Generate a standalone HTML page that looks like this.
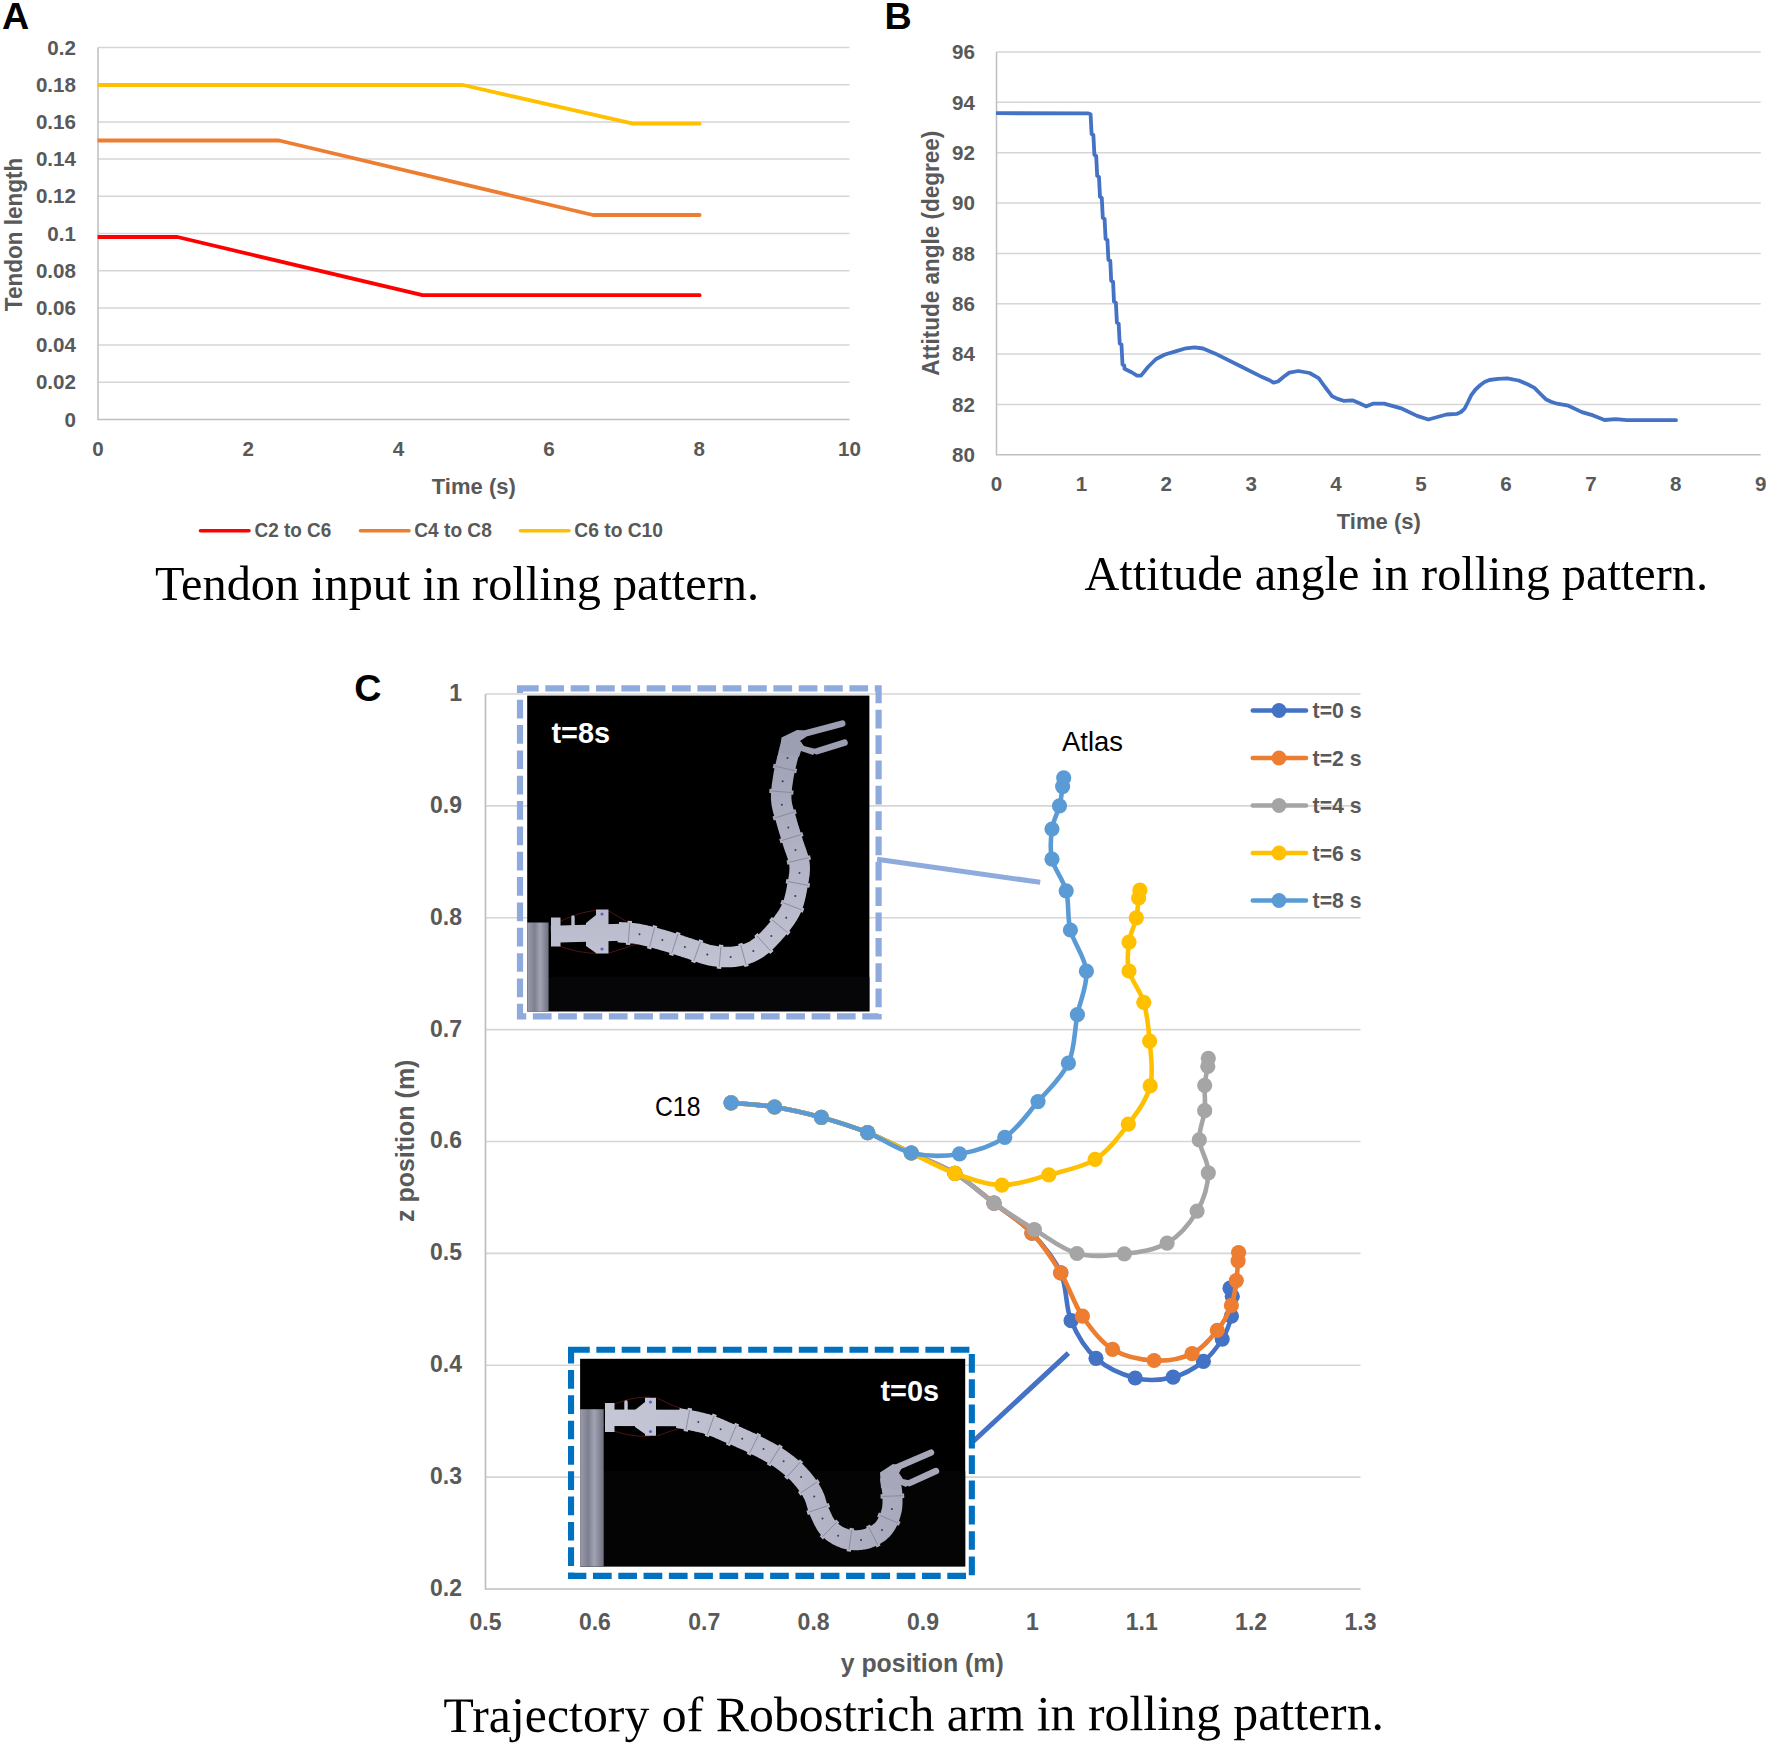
<!DOCTYPE html>
<html lang="en">
<head>
<meta charset="utf-8">
<title>Robostrich arm rolling pattern</title>
<style>
html,body{margin:0;padding:0;background:#fff;}
body{width:1772px;height:1745px;overflow:hidden;}
svg{display:block;}
text.s{font-family:"Liberation Sans", Arial, sans-serif;}
text.r{font-family:"Liberation Serif", "Times New Roman", serif;}
</style>
</head>
<body>
<svg width="1772" height="1745" viewBox="0 0 1772 1745">
<rect width="1772" height="1745" fill="#fff"/>
<defs><clipPath id="ca"><rect x="97.6" y="40" width="760" height="385"/></clipPath><clipPath id="cb"><rect x="996.1" y="45" width="770" height="415"/></clipPath></defs>
<text class="s" x="2" y="29" font-size="37.7" font-weight="bold" fill="#000">A</text>
<text class="s" x="884.6" y="29" font-size="37.7" font-weight="bold" fill="#000">B</text>
<text class="s" x="354.3" y="701.4" font-size="37.7" font-weight="bold" fill="#000">C</text>
<g stroke="#d6d6d6" stroke-width="1.5" fill="none">
<path d="M98.0,382.30H849.5"/>
<path d="M98.0,345.10H849.5"/>
<path d="M98.0,307.90H849.5"/>
<path d="M98.0,270.70H849.5"/>
<path d="M98.0,233.50H849.5"/>
<path d="M98.0,196.30H849.5"/>
<path d="M98.0,159.10H849.5"/>
<path d="M98.0,121.90H849.5"/>
<path d="M98.0,84.70H849.5"/>
<path d="M98.0,47.50H849.5"/>
</g>
<path d="M98.0,47.5V419.5H849.5" stroke="#bfbfbf" stroke-width="1.5" fill="none"/>
<text class="s" x="76" y="426.6" font-size="20.6" text-anchor="end" font-weight="bold" fill="#595959">0</text>
<text class="s" x="76" y="389.4" font-size="20.6" text-anchor="end" font-weight="bold" fill="#595959">0.02</text>
<text class="s" x="76" y="352.2" font-size="20.6" text-anchor="end" font-weight="bold" fill="#595959">0.04</text>
<text class="s" x="76" y="315.0" font-size="20.6" text-anchor="end" font-weight="bold" fill="#595959">0.06</text>
<text class="s" x="76" y="277.8" font-size="20.6" text-anchor="end" font-weight="bold" fill="#595959">0.08</text>
<text class="s" x="76" y="240.6" font-size="20.6" text-anchor="end" font-weight="bold" fill="#595959">0.1</text>
<text class="s" x="76" y="203.4" font-size="20.6" text-anchor="end" font-weight="bold" fill="#595959">0.12</text>
<text class="s" x="76" y="166.2" font-size="20.6" text-anchor="end" font-weight="bold" fill="#595959">0.14</text>
<text class="s" x="76" y="129.0" font-size="20.6" text-anchor="end" font-weight="bold" fill="#595959">0.16</text>
<text class="s" x="76" y="91.8" font-size="20.6" text-anchor="end" font-weight="bold" fill="#595959">0.18</text>
<text class="s" x="76" y="54.6" font-size="20.6" text-anchor="end" font-weight="bold" fill="#595959">0.2</text>
<text class="s" x="98.0" y="455.9" font-size="20.6" text-anchor="middle" font-weight="bold" fill="#595959">0</text>
<text class="s" x="248.3" y="455.9" font-size="20.6" text-anchor="middle" font-weight="bold" fill="#595959">2</text>
<text class="s" x="398.6" y="455.9" font-size="20.6" text-anchor="middle" font-weight="bold" fill="#595959">4</text>
<text class="s" x="548.9" y="455.9" font-size="20.6" text-anchor="middle" font-weight="bold" fill="#595959">6</text>
<text class="s" x="699.2" y="455.9" font-size="20.6" text-anchor="middle" font-weight="bold" fill="#595959">8</text>
<text class="s" x="849.5" y="455.9" font-size="20.6" text-anchor="middle" font-weight="bold" fill="#595959">10</text>
<text class="s" x="473.8" y="493.9" font-size="22.3" text-anchor="middle" font-weight="bold" fill="#595959" textLength="84" lengthAdjust="spacingAndGlyphs">Time (s)</text>
<text class="s" x="22.3" y="234.4" font-size="23" text-anchor="middle" font-weight="bold" fill="#595959" textLength="153.5" lengthAdjust="spacingAndGlyphs" transform="rotate(-90 22.3 234.4)">Tendon length</text>
<path d="M98.0,237.0 L177.5,237.0 L422.5,295.2 L699.6,295.2" stroke="#ff0000" stroke-width="3.8" fill="none" stroke-linecap="round" stroke-linejoin="round" clip-path="url(#ca)"/>
<path d="M98.0,140.5 L279.0,140.5 L593.0,215.0 L699.6,215.0" stroke="#ed7d31" stroke-width="3.8" fill="none" stroke-linecap="round" stroke-linejoin="round" clip-path="url(#ca)"/>
<path d="M98.0,85.0 L463.0,85.0 L633.0,123.7 L699.6,123.7" stroke="#ffc000" stroke-width="3.8" fill="none" stroke-linecap="round" stroke-linejoin="round" clip-path="url(#ca)"/>
<path d="M200.5,530.7H249" stroke="#ff0000" stroke-width="3.6" stroke-linecap="round"/>
<text class="s" x="254.5" y="536.8" font-size="20" font-weight="bold" fill="#595959" textLength="76.8" lengthAdjust="spacingAndGlyphs">C2 to C6</text>
<path d="M360.5,530.7H409" stroke="#ed7d31" stroke-width="3.6" stroke-linecap="round"/>
<text class="s" x="414.3" y="536.8" font-size="20" font-weight="bold" fill="#595959" textLength="77.5" lengthAdjust="spacingAndGlyphs">C4 to C8</text>
<path d="M520.5,530.7H569" stroke="#ffc000" stroke-width="3.6" stroke-linecap="round"/>
<text class="s" x="574.3" y="536.8" font-size="20" font-weight="bold" fill="#595959" textLength="88.7" lengthAdjust="spacingAndGlyphs">C6 to C10</text>
<text class="r" x="155" y="599.5" font-size="48" fill="#000" textLength="604" lengthAdjust="spacingAndGlyphs">Tendon input in rolling pattern.</text>
<g stroke="#d6d6d6" stroke-width="1.5" fill="none">
<path d="M996.5,404.45H1760.7"/>
<path d="M996.5,354.10H1760.7"/>
<path d="M996.5,303.75H1760.7"/>
<path d="M996.5,253.40H1760.7"/>
<path d="M996.5,203.05H1760.7"/>
<path d="M996.5,152.70H1760.7"/>
<path d="M996.5,102.35H1760.7"/>
<path d="M996.5,52.00H1760.7"/>
</g>
<path d="M996.5,52.0V454.8H1760.7" stroke="#bfbfbf" stroke-width="1.5" fill="none"/>
<text class="s" x="975" y="461.9" font-size="20.6" text-anchor="end" font-weight="bold" fill="#595959">80</text>
<text class="s" x="975" y="411.6" font-size="20.6" text-anchor="end" font-weight="bold" fill="#595959">82</text>
<text class="s" x="975" y="361.2" font-size="20.6" text-anchor="end" font-weight="bold" fill="#595959">84</text>
<text class="s" x="975" y="310.9" font-size="20.6" text-anchor="end" font-weight="bold" fill="#595959">86</text>
<text class="s" x="975" y="260.5" font-size="20.6" text-anchor="end" font-weight="bold" fill="#595959">88</text>
<text class="s" x="975" y="210.2" font-size="20.6" text-anchor="end" font-weight="bold" fill="#595959">90</text>
<text class="s" x="975" y="159.8" font-size="20.6" text-anchor="end" font-weight="bold" fill="#595959">92</text>
<text class="s" x="975" y="109.5" font-size="20.6" text-anchor="end" font-weight="bold" fill="#595959">94</text>
<text class="s" x="975" y="59.1" font-size="20.6" text-anchor="end" font-weight="bold" fill="#595959">96</text>
<text class="s" x="996.5" y="490.9" font-size="20.6" text-anchor="middle" font-weight="bold" fill="#595959">0</text>
<text class="s" x="1081.4" y="490.9" font-size="20.6" text-anchor="middle" font-weight="bold" fill="#595959">1</text>
<text class="s" x="1166.3" y="490.9" font-size="20.6" text-anchor="middle" font-weight="bold" fill="#595959">2</text>
<text class="s" x="1251.2" y="490.9" font-size="20.6" text-anchor="middle" font-weight="bold" fill="#595959">3</text>
<text class="s" x="1336.1" y="490.9" font-size="20.6" text-anchor="middle" font-weight="bold" fill="#595959">4</text>
<text class="s" x="1421.1" y="490.9" font-size="20.6" text-anchor="middle" font-weight="bold" fill="#595959">5</text>
<text class="s" x="1506.0" y="490.9" font-size="20.6" text-anchor="middle" font-weight="bold" fill="#595959">6</text>
<text class="s" x="1590.9" y="490.9" font-size="20.6" text-anchor="middle" font-weight="bold" fill="#595959">7</text>
<text class="s" x="1675.8" y="490.9" font-size="20.6" text-anchor="middle" font-weight="bold" fill="#595959">8</text>
<text class="s" x="1760.7" y="490.9" font-size="20.6" text-anchor="middle" font-weight="bold" fill="#595959">9</text>
<text class="s" x="1378.8" y="528.9" font-size="22.3" text-anchor="middle" font-weight="bold" fill="#595959" textLength="84" lengthAdjust="spacingAndGlyphs">Time (s)</text>
<text class="s" x="939" y="253.3" font-size="23" text-anchor="middle" font-weight="bold" fill="#595959" textLength="245" lengthAdjust="spacingAndGlyphs" transform="rotate(-90 939 253.3)">Attitude angle (degree)</text>
<path d="M996.5,113.2 L1088.5,113.4 L1090.5,114.2 L1090.6,114.5 L1091.6,134.0 L1093.4,135.0 L1093.4,135.5 L1094.4,154.9 L1096.2,155.9 L1096.2,156.4 L1097.2,175.9 L1099.0,176.9 L1099.0,177.4 L1100.0,196.8 L1101.8,197.8 L1101.8,198.3 L1102.8,217.8 L1104.6,218.8 L1104.6,219.3 L1105.6,238.8 L1107.4,239.8 L1107.4,240.2 L1108.4,259.7 L1110.3,260.7 L1110.3,261.2 L1111.2,280.7 L1113.1,281.7 L1113.1,282.2 L1114.0,301.6 L1115.9,302.6 L1115.9,303.1 L1116.9,322.6 L1118.7,323.6 L1118.7,324.1 L1119.7,343.5 L1121.5,344.5 L1121.5,345.0 L1122.5,364.5 L1124.3,365.5 L1124.5,368.7 L1132.0,372.5 L1137.0,375.6 L1141.0,375.6 L1148.0,367.0 L1156.1,359.0 L1165.0,354.5 L1176.4,351.1 L1186.0,348.3 L1194.5,347.3 L1203.0,348.5 L1214.8,353.4 L1239.6,365.8 L1262.2,377.1 L1270.0,380.5 L1273.5,382.7 L1278.0,381.5 L1284.0,376.5 L1289.3,372.6 L1298.3,371.0 L1309.6,373.0 L1318.6,378.2 L1325.0,387.0 L1332.2,396.3 L1337.0,398.6 L1343.5,400.8 L1352.5,400.3 L1360.0,403.5 L1366.0,406.4 L1372.8,403.7 L1384.1,403.7 L1402.1,408.7 L1417.1,415.9 L1428.4,419.5 L1446.5,414.5 L1456.7,413.9 L1461.0,412.0 L1464.6,408.7 L1468.0,402.0 L1471.3,395.1 L1475.5,389.5 L1480.4,385.0 L1484.5,382.0 L1489.4,380.0 L1498.0,378.8 L1507.4,378.4 L1518.7,380.5 L1527.0,384.0 L1534.5,387.9 L1540.0,393.5 L1545.8,399.2 L1551.0,401.8 L1557.1,403.7 L1568.4,405.7 L1581.9,412.1 L1593.2,415.4 L1604.5,420.0 L1615.8,419.1 L1627.1,420.2 L1676.0,420.2" stroke="#4472c4" stroke-width="3.8" fill="none" stroke-linecap="round" stroke-linejoin="round" clip-path="url(#cb)"/>
<text class="r" x="1084.5" y="589.8" font-size="48" fill="#000" textLength="623.5" lengthAdjust="spacingAndGlyphs">Attitude angle in rolling pattern.</text>
<g stroke="#d6d6d6" stroke-width="1.7" fill="none">
<path d="M485.5,1477.12H1360.5"/>
<path d="M485.5,1365.25H1360.5"/>
<path d="M485.5,1253.38H1360.5"/>
<path d="M485.5,1141.50H1360.5"/>
<path d="M485.5,1029.62H1360.5"/>
<path d="M485.5,917.75H1360.5"/>
<path d="M485.5,805.87H1360.5"/>
<path d="M485.5,694.00H1360.5"/>
</g>
<path d="M485.5,694.0V1589.0H1360.5" stroke="#bfbfbf" stroke-width="1.7" fill="none"/>
<text class="s" x="462" y="1595.9" font-size="23" text-anchor="end" font-weight="bold" fill="#595959">0.2</text>
<text class="s" x="462" y="1484.0" font-size="23" text-anchor="end" font-weight="bold" fill="#595959">0.3</text>
<text class="s" x="462" y="1372.2" font-size="23" text-anchor="end" font-weight="bold" fill="#595959">0.4</text>
<text class="s" x="462" y="1260.3" font-size="23" text-anchor="end" font-weight="bold" fill="#595959">0.5</text>
<text class="s" x="462" y="1148.4" font-size="23" text-anchor="end" font-weight="bold" fill="#595959">0.6</text>
<text class="s" x="462" y="1036.5" font-size="23" text-anchor="end" font-weight="bold" fill="#595959">0.7</text>
<text class="s" x="462" y="924.6" font-size="23" text-anchor="end" font-weight="bold" fill="#595959">0.8</text>
<text class="s" x="462" y="812.8" font-size="23" text-anchor="end" font-weight="bold" fill="#595959">0.9</text>
<text class="s" x="462" y="700.9" font-size="23" text-anchor="end" font-weight="bold" fill="#595959">1</text>
<text class="s" x="485.5" y="1629.7" font-size="23" text-anchor="middle" font-weight="bold" fill="#595959">0.5</text>
<text class="s" x="594.9" y="1629.7" font-size="23" text-anchor="middle" font-weight="bold" fill="#595959">0.6</text>
<text class="s" x="704.2" y="1629.7" font-size="23" text-anchor="middle" font-weight="bold" fill="#595959">0.7</text>
<text class="s" x="813.6" y="1629.7" font-size="23" text-anchor="middle" font-weight="bold" fill="#595959">0.8</text>
<text class="s" x="923.0" y="1629.7" font-size="23" text-anchor="middle" font-weight="bold" fill="#595959">0.9</text>
<text class="s" x="1032.4" y="1629.7" font-size="23" text-anchor="middle" font-weight="bold" fill="#595959">1</text>
<text class="s" x="1141.8" y="1629.7" font-size="23" text-anchor="middle" font-weight="bold" fill="#595959">1.1</text>
<text class="s" x="1251.1" y="1629.7" font-size="23" text-anchor="middle" font-weight="bold" fill="#595959">1.2</text>
<text class="s" x="1360.5" y="1629.7" font-size="23" text-anchor="middle" font-weight="bold" fill="#595959">1.3</text>
<text class="s" x="922.2" y="1671.7" font-size="25" text-anchor="middle" font-weight="bold" fill="#595959" textLength="163" lengthAdjust="spacingAndGlyphs">y position (m)</text>
<text class="s" x="414" y="1140.8" font-size="25" text-anchor="middle" font-weight="bold" fill="#595959" textLength="162.5" lengthAdjust="spacingAndGlyphs" transform="rotate(-90 414 1140.8)">z position (m)</text>
<g fill="#4472c4" stroke="none"><path d="M731.1,1102.8 C738.4,1103.5 759.6,1104.6 774.6,1107.0 C789.6,1109.4 805.9,1113.1 821.4,1117.4 C836.9,1121.7 852.6,1126.7 867.6,1132.6 C882.6,1138.5 896.7,1146.2 911.3,1153.0 C925.9,1159.8 941.2,1165.1 955.0,1173.4 C968.8,1181.8 981.2,1193.1 994.0,1203.1 C1006.8,1213.0 1020.8,1221.5 1031.9,1233.1 C1043.0,1244.7 1054.3,1258.3 1060.8,1272.9 C1067.3,1287.5 1065.2,1306.5 1071.1,1320.7 C1077.0,1334.9 1085.3,1348.8 1096.0,1358.3 C1106.7,1367.8 1122.4,1374.8 1135.2,1378.0 C1148.0,1381.2 1161.7,1380.0 1173.1,1377.2 C1184.5,1374.4 1195.2,1367.8 1203.4,1361.4 C1211.6,1355.1 1217.5,1346.6 1222.2,1339.1 C1226.9,1331.6 1229.7,1323.3 1231.4,1316.2 C1233.1,1309.1 1232.5,1301.0 1232.3,1296.3 C1232.1,1291.6 1230.4,1289.5 1230.0,1288.2" stroke="#4472c4" stroke-width="4.6" fill="none" stroke-linecap="round" stroke-linejoin="round"/>
<circle cx="731.1" cy="1102.8" r="7.6"/><circle cx="774.6" cy="1107.0" r="7.6"/><circle cx="821.4" cy="1117.4" r="7.6"/><circle cx="867.6" cy="1132.6" r="7.6"/><circle cx="911.3" cy="1153.0" r="7.6"/><circle cx="955.0" cy="1173.4" r="7.6"/><circle cx="994.0" cy="1203.1" r="7.6"/><circle cx="1031.9" cy="1233.1" r="7.6"/><circle cx="1060.8" cy="1272.9" r="7.6"/><circle cx="1071.1" cy="1320.7" r="7.6"/><circle cx="1096.0" cy="1358.3" r="7.6"/><circle cx="1135.2" cy="1378.0" r="7.6"/><circle cx="1173.1" cy="1377.2" r="7.6"/><circle cx="1203.4" cy="1361.4" r="7.6"/><circle cx="1222.2" cy="1339.1" r="7.6"/><circle cx="1231.4" cy="1316.2" r="7.6"/><circle cx="1232.3" cy="1296.3" r="7.6"/><circle cx="1230.0" cy="1288.2" r="7.6"/>
</g>
<g fill="#ed7d31" stroke="none"><path d="M731.1,1102.8 C738.4,1103.5 759.6,1104.6 774.6,1107.0 C789.6,1109.4 805.9,1113.1 821.4,1117.4 C836.9,1121.7 852.6,1126.7 867.6,1132.6 C882.6,1138.5 896.7,1146.2 911.3,1153.0 C925.9,1159.8 941.2,1165.1 955.0,1173.4 C968.8,1181.8 981.2,1193.1 994.0,1203.1 C1006.8,1213.0 1020.8,1221.5 1031.9,1233.1 C1043.0,1244.7 1052.4,1259.1 1060.8,1272.9 C1069.2,1286.8 1073.8,1303.5 1082.4,1316.2 C1091.0,1328.9 1100.6,1341.9 1112.6,1349.3 C1124.5,1356.7 1140.8,1359.8 1154.1,1360.5 C1167.3,1361.2 1181.6,1358.6 1192.1,1353.6 C1202.6,1348.6 1210.8,1338.3 1217.3,1330.3 C1223.8,1322.3 1228.2,1313.7 1231.4,1305.4 C1234.6,1297.1 1235.2,1288.0 1236.3,1280.6 C1237.4,1273.2 1237.7,1265.5 1238.1,1260.8 C1238.5,1256.1 1238.5,1253.9 1238.6,1252.5" stroke="#ed7d31" stroke-width="4.6" fill="none" stroke-linecap="round" stroke-linejoin="round"/>
<circle cx="731.1" cy="1102.8" r="7.6"/><circle cx="774.6" cy="1107.0" r="7.6"/><circle cx="821.4" cy="1117.4" r="7.6"/><circle cx="867.6" cy="1132.6" r="7.6"/><circle cx="911.3" cy="1153.0" r="7.6"/><circle cx="955.0" cy="1173.4" r="7.6"/><circle cx="994.0" cy="1203.1" r="7.6"/><circle cx="1031.9" cy="1233.1" r="7.6"/><circle cx="1060.8" cy="1272.9" r="7.6"/><circle cx="1082.4" cy="1316.2" r="7.6"/><circle cx="1112.6" cy="1349.3" r="7.6"/><circle cx="1154.1" cy="1360.5" r="7.6"/><circle cx="1192.1" cy="1353.6" r="7.6"/><circle cx="1217.3" cy="1330.3" r="7.6"/><circle cx="1231.4" cy="1305.4" r="7.6"/><circle cx="1236.3" cy="1280.6" r="7.6"/><circle cx="1238.1" cy="1260.8" r="7.6"/><circle cx="1238.6" cy="1252.5" r="7.6"/>
</g>
<g fill="#a5a5a5" stroke="none"><path d="M731.1,1102.8 C738.4,1103.5 759.6,1104.6 774.6,1107.0 C789.6,1109.4 805.9,1113.1 821.4,1117.4 C836.9,1121.7 852.6,1126.7 867.6,1132.6 C882.6,1138.5 896.7,1146.2 911.3,1153.0 C925.9,1159.8 941.2,1165.1 955.0,1173.4 C968.8,1181.8 980.8,1193.8 994.0,1203.1 C1007.2,1212.4 1020.6,1221.1 1034.4,1229.5 C1048.2,1237.9 1062.0,1249.4 1077.0,1253.5 C1092.0,1257.6 1109.3,1255.6 1124.3,1253.9 C1139.3,1252.2 1155.0,1250.2 1167.1,1243.1 C1179.2,1236.0 1190.2,1222.8 1197.1,1211.1 C1204.0,1199.4 1207.9,1184.7 1208.3,1172.8 C1208.7,1160.9 1199.9,1150.2 1199.3,1139.9 C1198.7,1129.6 1203.8,1119.8 1204.7,1110.7 C1205.6,1101.6 1204.2,1092.8 1204.7,1085.4 C1205.2,1078.0 1207.2,1070.9 1207.8,1066.4 C1208.4,1061.9 1208.2,1059.7 1208.3,1058.3" stroke="#a5a5a5" stroke-width="4.6" fill="none" stroke-linecap="round" stroke-linejoin="round"/>
<circle cx="731.1" cy="1102.8" r="7.6"/><circle cx="774.6" cy="1107.0" r="7.6"/><circle cx="821.4" cy="1117.4" r="7.6"/><circle cx="867.6" cy="1132.6" r="7.6"/><circle cx="911.3" cy="1153.0" r="7.6"/><circle cx="955.0" cy="1173.4" r="7.6"/><circle cx="994.0" cy="1203.1" r="7.6"/><circle cx="1034.4" cy="1229.5" r="7.6"/><circle cx="1077.0" cy="1253.5" r="7.6"/><circle cx="1124.3" cy="1253.9" r="7.6"/><circle cx="1167.1" cy="1243.1" r="7.6"/><circle cx="1197.1" cy="1211.1" r="7.6"/><circle cx="1208.3" cy="1172.8" r="7.6"/><circle cx="1199.3" cy="1139.9" r="7.6"/><circle cx="1204.7" cy="1110.7" r="7.6"/><circle cx="1204.7" cy="1085.4" r="7.6"/><circle cx="1207.8" cy="1066.4" r="7.6"/><circle cx="1208.3" cy="1058.3" r="7.6"/>
</g>
<g fill="#ffc000" stroke="none"><path d="M731.1,1102.8 C738.4,1103.5 759.6,1104.6 774.6,1107.0 C789.6,1109.4 805.9,1113.1 821.4,1117.4 C836.9,1121.7 852.6,1126.7 867.6,1132.6 C882.6,1138.5 896.7,1146.2 911.3,1153.0 C925.9,1159.8 939.9,1168.1 955.0,1173.4 C970.1,1178.8 986.3,1184.9 1001.9,1185.1 C1017.5,1185.3 1033.3,1179.1 1048.8,1174.8 C1064.3,1170.5 1081.8,1167.8 1095.1,1159.4 C1108.3,1151.0 1119.1,1136.5 1128.3,1124.2 C1137.5,1112.0 1146.7,1099.8 1150.2,1085.9 C1153.8,1072.1 1150.7,1055.0 1149.6,1041.1 C1148.5,1027.2 1147.2,1014.0 1143.8,1002.3 C1140.4,990.6 1131.5,981.0 1129.0,971.0 C1126.5,961.0 1127.8,951.1 1129.0,942.2 C1130.2,933.4 1134.7,925.3 1136.3,917.9 C1137.9,910.5 1138.0,902.6 1138.6,898.0 C1139.2,893.4 1139.7,891.5 1139.9,890.2" stroke="#ffc000" stroke-width="4.6" fill="none" stroke-linecap="round" stroke-linejoin="round"/>
<circle cx="731.1" cy="1102.8" r="7.6"/><circle cx="774.6" cy="1107.0" r="7.6"/><circle cx="821.4" cy="1117.4" r="7.6"/><circle cx="867.6" cy="1132.6" r="7.6"/><circle cx="911.3" cy="1153.0" r="7.6"/><circle cx="955.0" cy="1173.4" r="7.6"/><circle cx="1001.9" cy="1185.1" r="7.6"/><circle cx="1048.8" cy="1174.8" r="7.6"/><circle cx="1095.1" cy="1159.4" r="7.6"/><circle cx="1128.3" cy="1124.2" r="7.6"/><circle cx="1150.2" cy="1085.9" r="7.6"/><circle cx="1149.6" cy="1041.1" r="7.6"/><circle cx="1143.8" cy="1002.3" r="7.6"/><circle cx="1129.0" cy="971.0" r="7.6"/><circle cx="1129.0" cy="942.2" r="7.6"/><circle cx="1136.3" cy="917.9" r="7.6"/><circle cx="1138.6" cy="898.0" r="7.6"/><circle cx="1139.9" cy="890.2" r="7.6"/>
</g>
<g fill="#5b9bd5" stroke="none"><path d="M731.1,1102.8 C738.4,1103.5 759.6,1104.6 774.6,1107.0 C789.6,1109.4 805.9,1113.1 821.4,1117.4 C836.9,1121.7 852.6,1126.7 867.6,1132.6 C882.6,1138.5 896.0,1149.5 911.3,1153.0 C926.6,1156.5 943.9,1156.5 959.5,1153.9 C975.1,1151.3 991.7,1146.0 1004.8,1137.3 C1017.9,1128.6 1027.4,1113.9 1038.0,1101.6 C1048.6,1089.2 1061.8,1077.7 1068.4,1063.2 C1075.0,1048.7 1074.4,1029.9 1077.4,1014.6 C1080.4,999.3 1087.6,985.3 1086.4,971.2 C1085.2,957.1 1073.8,943.4 1070.4,930.0 C1067.0,916.6 1069.3,902.6 1066.2,890.8 C1063.1,879.0 1054.4,869.5 1052.0,859.2 C1049.6,848.9 1050.8,837.9 1052.0,829.0 C1053.2,820.1 1057.7,813.0 1059.5,805.9 C1061.3,798.8 1061.9,791.3 1062.6,786.6 C1063.3,781.9 1063.5,779.4 1063.7,777.9" stroke="#5b9bd5" stroke-width="4.6" fill="none" stroke-linecap="round" stroke-linejoin="round"/>
<circle cx="731.1" cy="1102.8" r="7.6"/><circle cx="774.6" cy="1107.0" r="7.6"/><circle cx="821.4" cy="1117.4" r="7.6"/><circle cx="867.6" cy="1132.6" r="7.6"/><circle cx="911.3" cy="1153.0" r="7.6"/><circle cx="959.5" cy="1153.9" r="7.6"/><circle cx="1004.8" cy="1137.3" r="7.6"/><circle cx="1038.0" cy="1101.6" r="7.6"/><circle cx="1068.4" cy="1063.2" r="7.6"/><circle cx="1077.4" cy="1014.6" r="7.6"/><circle cx="1086.4" cy="971.2" r="7.6"/><circle cx="1070.4" cy="930.0" r="7.6"/><circle cx="1066.2" cy="890.8" r="7.6"/><circle cx="1052.0" cy="859.2" r="7.6"/><circle cx="1052.0" cy="829.0" r="7.6"/><circle cx="1059.5" cy="805.9" r="7.6"/><circle cx="1062.6" cy="786.6" r="7.6"/><circle cx="1063.7" cy="777.9" r="7.6"/>
</g>
<path d="M1252.8,710.5H1306" stroke="#4472c4" stroke-width="4.6" stroke-linecap="round"/><circle cx="1279" cy="710.5" r="7.4" fill="#4472c4"/>
<text class="s" x="1312.6" y="718.1" font-size="21.8" font-weight="bold" fill="#595959" textLength="49" lengthAdjust="spacingAndGlyphs">t=0 s</text>
<path d="M1252.8,758.0H1306" stroke="#ed7d31" stroke-width="4.6" stroke-linecap="round"/><circle cx="1279" cy="758.0" r="7.4" fill="#ed7d31"/>
<text class="s" x="1312.6" y="765.6" font-size="21.8" font-weight="bold" fill="#595959" textLength="49" lengthAdjust="spacingAndGlyphs">t=2 s</text>
<path d="M1252.8,805.5H1306" stroke="#a5a5a5" stroke-width="4.6" stroke-linecap="round"/><circle cx="1279" cy="805.5" r="7.4" fill="#a5a5a5"/>
<text class="s" x="1312.6" y="813.1" font-size="21.8" font-weight="bold" fill="#595959" textLength="49" lengthAdjust="spacingAndGlyphs">t=4 s</text>
<path d="M1252.8,853.0H1306" stroke="#ffc000" stroke-width="4.6" stroke-linecap="round"/><circle cx="1279" cy="853.0" r="7.4" fill="#ffc000"/>
<text class="s" x="1312.6" y="860.6" font-size="21.8" font-weight="bold" fill="#595959" textLength="49" lengthAdjust="spacingAndGlyphs">t=6 s</text>
<path d="M1252.8,900.5H1306" stroke="#5b9bd5" stroke-width="4.6" stroke-linecap="round"/><circle cx="1279" cy="900.5" r="7.4" fill="#5b9bd5"/>
<text class="s" x="1312.6" y="908.1" font-size="21.8" font-weight="bold" fill="#595959" textLength="49" lengthAdjust="spacingAndGlyphs">t=8 s</text>
<text class="s" x="1062" y="751" font-size="27.3" fill="#000" textLength="61" lengthAdjust="spacingAndGlyphs">Atlas</text>
<text class="s" x="655" y="1116" font-size="27.3" fill="#000" textLength="45.4" lengthAdjust="spacingAndGlyphs">C18</text>
<path d="M877,859.2L1040.2,882.3" stroke="#8faadc" stroke-width="5" fill="none"/>
<path d="M972,1442.5L1068.4,1353.2" stroke="#4472c4" stroke-width="5" fill="none"/>
<defs><linearGradient id="ga" gradientUnits="userSpaceOnUse" x1="0" y1="725" x2="0" y2="960"><stop offset="0" stop-color="#9b9db1"/><stop offset="0.55" stop-color="#b1b3c5"/><stop offset="1" stop-color="#c0c2d2"/></linearGradient><linearGradient id="gb" gradientUnits="userSpaceOnUse" x1="600" y1="0" x2="935" y2="0"><stop offset="0" stop-color="#c6c8d7"/><stop offset="0.6" stop-color="#b6b8c9"/><stop offset="1" stop-color="#a3a5b8"/></linearGradient><linearGradient id="gc" x1="0" y1="0" x2="1" y2="0"><stop offset="0" stop-color="#9a9bab"/><stop offset="0.35" stop-color="#7e7f90"/><stop offset="0.6" stop-color="#a2a3b3"/><stop offset="1" stop-color="#6f7080"/></linearGradient></defs>
<rect x="527.2" y="695.6" width="342.2" height="315.7" fill="#000"/>
<rect x="527.2" y="977" width="342.2" height="34.3" fill="#060608"/>
<rect x="527.2" y="922.5" width="21.4" height="88.8" fill="url(#gc)"/>
<path d="M551,926 Q580,910 602,910 M551,943 Q580,955 602,953 M609,911 Q625,922 640,927 M609,953 Q625,948 640,943" stroke="#5a1515" stroke-width="0.9" fill="none"/>
<path d="M551,934.2L622,932.3" stroke="url(#ga)" stroke-width="17" fill="none"/>
<rect x="551" y="917.5" width="9.5" height="29" fill="url(#ga)"/>
<path d="M596,909.5h12.5v44h-12.5z M586,923 l10,-8 v38 l-10,-7z" fill="url(#ga)"/>
<circle cx="602" cy="914" r="1.6" fill="#5d62d8"/><circle cx="602" cy="949" r="1.6" fill="#5d62d8"/>
<path d="M573,917v9" stroke="url(#ga)" stroke-width="3.4" stroke-linecap="round" fill="none"/>
<path d="M619.0,932.2 L619.4,932.2 L619.9,932.3 L620.5,932.3 L621.1,932.4 L621.7,932.4 L622.4,932.4 L623.1,932.5 L623.9,932.5 L624.7,932.6 L625.5,932.6 L626.4,932.7 L627.2,932.7 L628.1,932.8 L629.1,932.9 L630.0,933.0 L631.0,933.1 L631.9,933.2 L632.9,933.3 L633.9,933.4 L634.8,933.5 L635.8,933.6 L636.8,933.8 L637.7,933.9 L638.7,934.1 L639.7,934.3 L640.6,934.5 L641.6,934.7 L642.7,934.9 L643.7,935.1 L644.8,935.4 L645.8,935.6 L646.9,935.9 L648.0,936.2 L649.1,936.4 L650.2,936.7 L651.3,937.0 L652.4,937.3 L653.5,937.6 L654.7,937.9 L655.8,938.2 L656.9,938.5 L658.0,938.8 L659.1,939.1 L660.2,939.4 L661.2,939.7 L662.3,940.0 L663.4,940.3 L664.4,940.6 L665.4,940.9 L666.4,941.2 L667.5,941.5 L668.5,941.8 L669.5,942.1 L670.4,942.4 L671.4,942.7 L672.4,943.0 L673.4,943.3 L674.4,943.7 L675.4,944.0 L676.3,944.3 L677.3,944.6 L678.3,944.9 L679.2,945.2 L680.2,945.6 L681.2,945.9 L682.1,946.2 L683.1,946.5 L684.1,946.8 L685.1,947.2 L686.0,947.5 L687.0,947.8 L688.0,948.1 L689.0,948.4 L690.0,948.7 L691.0,949.1 L691.9,949.4 L692.9,949.8 L693.9,950.1 L694.9,950.5 L695.9,950.8 L696.9,951.2 L697.8,951.6 L698.8,951.9 L699.8,952.3 L700.8,952.6 L701.8,952.9 L702.8,953.3 L703.7,953.6 L704.7,953.9 L705.7,954.2 L706.7,954.5 L707.7,954.7 L708.7,955.0 L709.6,955.2 L710.6,955.4 L711.6,955.6 L712.6,955.8 L713.6,955.9 L714.6,956.1 L715.6,956.2 L716.6,956.4 L717.6,956.5 L718.5,956.6 L719.5,956.7 L720.5,956.8 L721.5,956.9 L722.5,957.0 L723.5,957.0 L724.5,957.1 L725.5,957.1 L726.5,957.1 L727.5,957.1 L728.5,957.1 L729.5,957.1 L730.4,957.1 L731.4,957.0 L732.4,956.9 L733.3,956.8 L734.3,956.7 L735.2,956.6 L736.1,956.5 L737.1,956.3 L738.0,956.1 L738.9,956.0 L739.8,955.8 L740.8,955.6 L741.7,955.4 L742.6,955.1 L743.5,954.9 L744.4,954.6 L745.3,954.3 L746.2,954.1 L747.1,953.7 L747.9,953.4 L748.8,953.1 L749.7,952.7 L750.6,952.3 L751.4,951.9 L752.3,951.5 L753.2,951.1 L754.0,950.6 L754.9,950.1 L755.8,949.6 L756.6,949.1 L757.4,948.5 L758.3,948.0 L759.1,947.4 L760.0,946.7 L760.8,946.1 L761.7,945.4 L762.5,944.7 L763.3,943.9 L764.2,943.2 L765.0,942.4 L765.8,941.7 L766.6,940.9 L767.5,940.1 L768.3,939.3 L769.1,938.4 L769.9,937.6 L770.6,936.8 L771.4,935.9 L772.2,935.1 L773.0,934.2 L773.7,933.4 L774.4,932.6 L775.2,931.7 L775.9,930.9 L776.6,930.1 L777.3,929.2 L778.0,928.4 L778.7,927.5 L779.5,926.7 L780.2,925.8 L780.8,925.0 L781.5,924.1 L782.2,923.2 L782.9,922.3 L783.5,921.4 L784.2,920.5 L784.8,919.6 L785.5,918.7 L786.1,917.8 L786.7,916.9 L787.3,916.0 L787.8,915.1 L788.4,914.2 L788.9,913.2 L789.5,912.3 L790.0,911.4 L790.4,910.4 L790.9,909.5 L791.3,908.6 L791.8,907.6 L792.1,906.6 L792.5,905.7 L792.9,904.7 L793.2,903.7 L793.6,902.7 L793.9,901.7 L794.2,900.7 L794.4,899.7 L794.7,898.7 L795.0,897.7 L795.2,896.7 L795.4,895.7 L795.7,894.7 L795.9,893.7 L796.1,892.7 L796.3,891.7 L796.5,890.7 L796.7,889.7 L796.9,888.8 L797.0,887.8 L797.2,886.8 L797.4,885.9 L797.6,885.0 L797.8,884.0 L797.9,883.1 L798.1,882.2 L798.3,881.3 L798.4,880.4 L798.6,879.5 L798.7,878.6 L798.9,877.7 L799.0,876.8 L799.1,875.9 L799.3,875.0 L799.4,874.1 L799.5,873.2 L799.5,872.4 L799.6,871.5 L799.6,870.6 L799.7,869.7 L799.7,868.8 L799.7,868.0 L799.7,867.1 L799.6,866.2 L799.6,865.3 L799.5,864.4 L799.4,863.5 L799.3,862.6 L799.1,861.7 L798.9,860.8 L798.7,859.9 L798.5,859.0 L798.3,858.2 L798.0,857.3 L797.7,856.4 L797.4,855.5 L797.1,854.6 L796.8,853.7 L796.5,852.8 L796.2,851.9 L795.9,851.0 L795.6,850.1 L795.2,849.2 L794.9,848.4 L794.6,847.5 L794.3,846.6 L794.0,845.7 L793.7,844.8 L793.4,843.9 L793.1,843.0 L792.8,842.1 L792.6,841.2 L792.3,840.3 L792.0,839.4 L791.7,838.5 L791.5,837.6 L791.2,836.7 L790.9,835.8 L790.6,834.9 L790.3,834.0 L790.1,833.1 L789.8,832.2 L789.5,831.4 L789.2,830.5 L789.0,829.6 L788.7,828.7 L788.4,827.8 L788.1,826.9 L787.9,826.0 L787.6,825.1 L787.4,824.2 L787.1,823.3 L786.8,822.4 L786.6,821.5 L786.4,820.6 L786.1,819.7 L785.8,818.8 L785.6,818.0 L785.3,817.1 L785.0,816.2 L784.7,815.3 L784.5,814.4 L784.2,813.6 L783.9,812.7 L783.7,811.8 L783.4,810.9 L783.2,810.1 L782.9,809.2 L782.7,808.3 L782.5,807.4 L782.3,806.5 L782.1,805.6 L781.9,804.7 L781.7,803.8 L781.6,802.9 L781.5,802.0 L781.4,801.0 L781.3,800.1 L781.2,799.2 L781.2,798.2 L781.2,797.3 L781.2,796.3 L781.2,795.3 L781.2,794.4 L781.3,793.4 L781.3,792.4 L781.4,791.4 L781.5,790.4 L781.6,789.4 L781.7,788.4 L781.8,787.4 L781.9,786.4 L782.0,785.4 L782.2,784.4 L782.3,783.4 L782.5,782.5 L782.6,781.5 L782.8,780.5 L782.9,779.5 L783.1,778.5 L783.2,777.5 L783.4,776.5 L783.6,775.5 L783.7,774.5 L783.9,773.5 L784.1,772.4 L784.4,771.4 L784.6,770.3 L784.8,769.2 L785.1,768.2 L785.3,767.1 L785.6,766.0 L785.8,765.0 L786.1,763.9 L786.3,762.9 L786.6,761.8 L786.8,760.8 L787.1,759.8 L787.3,758.9 L787.6,757.9 L787.8,757.0 L788.0,756.1 L788.2,755.2 L788.4,754.4 L788.6,753.6 L788.8,752.9 L789.0,752.2 L789.1,751.5 L789.3,750.9 L789.4,750.2 L789.6,749.6 L789.7,749.0 L789.9,748.5 L790.0,747.9 L790.1,747.4 L790.3,746.9 L790.4,746.4 L790.5,746.0 L790.6,745.5 L790.7,745.1 L790.8,744.7 L790.9,744.4 L791.0,744.0 L791.1,743.7 L791.2,743.3 L791.2,743.0 L791.3,742.8 L791.4,742.5 L791.4,742.2 L791.5,742.0" stroke="url(#ga)" stroke-width="20.5" fill="none" stroke-linejoin="round"/>
<path d="M629.9,920.9L628.0,944.9 M655.2,925.6L649.1,948.9 M678.5,932.3L671.1,955.3 M701.3,940.0L693.1,962.6 M721.2,944.8L718.9,968.8 M740.3,943.3L746.6,966.5 M755.8,934.5L771.9,952.5 M770.5,918.6L789.2,933.8 M781.1,901.9L803.5,910.6 M786.0,881.1L809.7,885.6 M787.0,862.7L810.5,857.3 M779.9,841.1L802.9,834.0 M773.1,818.5L796.1,811.4 M769.4,790.9L793.4,792.6 M773.2,765.8L796.7,771.1" stroke="url(#ga)" stroke-width="4.4" fill="none"/>
<path d="M629.8,922.7L628.2,943.1 M654.7,927.3L649.5,947.1 M678.0,934.0L671.6,953.5 M700.7,941.7L693.7,961.0 M721.0,946.6L719.1,967.0 M740.7,945.0L746.1,964.8 M757.0,935.9L770.7,951.1 M771.9,919.7L787.8,932.7 M782.7,902.6L801.9,910.0 M787.8,881.5L808.0,885.3 M788.7,862.3L808.7,857.7 M781.6,840.6L801.2,834.5 M774.8,818.0L794.4,811.9 M771.2,791.0L791.6,792.5 M775.0,766.2L795.0,770.7" stroke="#7f8193" stroke-width="0.8" fill="none"/>
<g fill="#3c3d4c"><circle cx="639.5" cy="934.3" r="1"/><circle cx="662.4" cy="940.0" r="1"/><circle cx="684.9" cy="947.1" r="1"/><circle cx="707.3" cy="954.6" r="1"/><circle cx="730.6" cy="957.0" r="1"/><circle cx="753.3" cy="951.0" r="1"/><circle cx="771.3" cy="936.0" r="1"/><circle cx="786.2" cy="917.7" r="1"/><circle cx="795.3" cy="896.1" r="1"/><circle cx="799.5" cy="872.9" r="1"/><circle cx="795.5" cy="849.9" r="1"/><circle cx="788.3" cy="827.4" r="1"/><circle cx="781.9" cy="804.7" r="1"/><circle cx="782.7" cy="781.2" r="1"/><circle cx="787.5" cy="758.1" r="1"/></g>
<path d="M806.5,733.2L842.3,723.6" stroke="#9c9eb2" stroke-width="6.4" stroke-linecap="round"/>
<path d="M816.9,751.2L844.6,742.6" stroke="#9c9eb2" stroke-width="6.4" stroke-linecap="round"/>
<path d="M781.5,737.5 L797,730 L808,730.5 L806,737 L800,741 L804,746 L818,749.5 L813,755 L801,751 L799,757 L781,753z" fill="#9c9eb2"/>
<rect x="520" y="688.35" width="358.6" height="327.95" fill="none" stroke="#8faadc" stroke-width="6.2" stroke-dasharray="18.7 6.64"/>
<text class="s" x="551.5" y="743" font-size="29" font-weight="bold" fill="#fff" textLength="58.5" lengthAdjust="spacingAndGlyphs">t=8s</text>
<rect x="580.1" y="1358.8" width="385.1" height="207.6" fill="#000"/>
<rect x="580.1" y="1471" width="385.1" height="95.4" fill="#040405"/>
<rect x="580.1" y="1409.2" width="23.6" height="157.2" fill="url(#gc)"/>
<path d="M606,1408 Q630,1396 650,1397 M606,1428 Q630,1438 650,1436 M657,1398 Q672,1406 688,1411 M657,1436 Q672,1430 688,1426" stroke="#5a1515" stroke-width="0.9" fill="none"/>
<path d="M605,1417.7L682,1418" stroke="url(#gb)" stroke-width="16.5" fill="none"/>
<rect x="605" y="1403" width="9.5" height="29" fill="url(#gb)"/>
<path d="M645,1397.8h11v38h-11z M635,1410 l10,-8 v32 l-10,-7z" fill="url(#gb)"/>
<circle cx="650.5" cy="1402" r="1.6" fill="#5d62d8"/><circle cx="650.5" cy="1431.5" r="1.6" fill="#5d62d8"/>
<path d="M626,1402v8" stroke="url(#gb)" stroke-width="3.4" stroke-linecap="round" fill="none"/>
<path d="M678.0,1418.0 L678.6,1418.1 L679.3,1418.3 L680.2,1418.4 L681.0,1418.6 L682.0,1418.7 L683.0,1418.9 L684.1,1419.1 L685.3,1419.3 L686.5,1419.5 L687.7,1419.8 L689.0,1420.0 L690.3,1420.2 L691.6,1420.5 L692.9,1420.8 L694.3,1421.0 L695.6,1421.3 L697.0,1421.6 L698.3,1421.9 L699.6,1422.2 L700.9,1422.5 L702.1,1422.8 L703.3,1423.1 L704.5,1423.4 L705.6,1423.7 L706.7,1424.0 L707.7,1424.4 L708.8,1424.7 L709.8,1425.1 L710.9,1425.4 L711.9,1425.8 L712.9,1426.2 L713.9,1426.6 L715.0,1427.0 L716.0,1427.4 L717.0,1427.8 L718.0,1428.2 L719.0,1428.6 L719.9,1429.1 L720.9,1429.5 L721.9,1429.9 L722.9,1430.4 L723.9,1430.8 L724.9,1431.2 L725.9,1431.7 L726.9,1432.1 L727.9,1432.5 L728.9,1433.0 L729.9,1433.4 L730.9,1433.8 L731.9,1434.3 L732.9,1434.7 L733.9,1435.1 L734.9,1435.5 L736.0,1436.0 L737.0,1436.4 L738.0,1436.9 L739.0,1437.3 L740.0,1437.7 L741.0,1438.2 L742.0,1438.6 L743.0,1439.1 L744.0,1439.5 L745.0,1440.0 L746.0,1440.4 L747.0,1440.9 L748.0,1441.4 L749.1,1441.8 L750.1,1442.3 L751.1,1442.8 L752.1,1443.3 L753.1,1443.8 L754.1,1444.3 L755.1,1444.8 L756.1,1445.3 L757.2,1445.8 L758.2,1446.4 L759.2,1446.9 L760.3,1447.4 L761.3,1448.0 L762.4,1448.5 L763.4,1449.0 L764.5,1449.6 L765.5,1450.1 L766.5,1450.7 L767.6,1451.3 L768.6,1451.8 L769.6,1452.4 L770.7,1453.0 L771.7,1453.5 L772.7,1454.1 L773.7,1454.7 L774.6,1455.3 L775.6,1455.9 L776.5,1456.5 L777.5,1457.1 L778.4,1457.7 L779.3,1458.3 L780.2,1458.9 L781.1,1459.5 L782.0,1460.2 L782.8,1460.8 L783.7,1461.4 L784.6,1462.0 L785.4,1462.7 L786.2,1463.3 L787.1,1463.9 L787.9,1464.6 L788.7,1465.2 L789.5,1465.9 L790.3,1466.5 L791.1,1467.2 L791.9,1467.9 L792.6,1468.6 L793.4,1469.2 L794.2,1469.9 L794.9,1470.6 L795.6,1471.3 L796.4,1472.0 L797.1,1472.8 L797.8,1473.5 L798.5,1474.2 L799.2,1475.0 L799.9,1475.8 L800.6,1476.5 L801.3,1477.3 L802.0,1478.1 L802.6,1478.9 L803.3,1479.7 L804.0,1480.5 L804.6,1481.3 L805.2,1482.1 L805.9,1483.0 L806.5,1483.8 L807.1,1484.6 L807.7,1485.5 L808.3,1486.3 L808.8,1487.1 L809.4,1488.0 L809.9,1488.8 L810.5,1489.6 L811.0,1490.5 L811.5,1491.3 L811.9,1492.1 L812.4,1492.9 L812.8,1493.7 L813.3,1494.5 L813.6,1495.3 L814.0,1496.2 L814.3,1497.0 L814.7,1497.8 L815.0,1498.6 L815.3,1499.5 L815.5,1500.3 L815.8,1501.1 L816.0,1501.9 L816.3,1502.8 L816.5,1503.6 L816.8,1504.4 L817.0,1505.2 L817.3,1506.0 L817.5,1506.8 L817.8,1507.6 L818.1,1508.4 L818.3,1509.2 L818.6,1510.0 L818.9,1510.8 L819.3,1511.5 L819.6,1512.3 L820.0,1513.1 L820.3,1513.8 L820.7,1514.6 L821.0,1515.4 L821.3,1516.1 L821.7,1516.9 L822.1,1517.7 L822.4,1518.4 L822.8,1519.2 L823.1,1519.9 L823.5,1520.7 L823.9,1521.4 L824.3,1522.1 L824.7,1522.9 L825.1,1523.6 L825.5,1524.3 L825.9,1524.9 L826.4,1525.6 L826.9,1526.3 L827.3,1526.9 L827.8,1527.5 L828.3,1528.1 L828.9,1528.7 L829.4,1529.3 L830.0,1529.9 L830.6,1530.4 L831.2,1530.9 L831.8,1531.5 L832.4,1532.0 L833.1,1532.5 L833.7,1533.0 L834.4,1533.4 L835.1,1533.9 L835.8,1534.4 L836.5,1534.8 L837.2,1535.2 L838.0,1535.6 L838.7,1536.0 L839.5,1536.4 L840.2,1536.8 L841.0,1537.1 L841.7,1537.4 L842.5,1537.7 L843.3,1538.0 L844.0,1538.3 L844.8,1538.6 L845.5,1538.8 L846.3,1539.0 L847.1,1539.2 L847.8,1539.4 L848.6,1539.5 L849.4,1539.7 L850.2,1539.8 L851.1,1539.9 L851.9,1540.0 L852.7,1540.1 L853.5,1540.1 L854.4,1540.2 L855.2,1540.2 L856.0,1540.2 L856.9,1540.2 L857.7,1540.2 L858.6,1540.1 L859.4,1540.1 L860.2,1540.0 L861.0,1539.9 L861.9,1539.8 L862.7,1539.7 L863.5,1539.5 L864.3,1539.4 L865.0,1539.2 L865.8,1539.0 L866.6,1538.8 L867.3,1538.6 L868.1,1538.3 L868.9,1538.0 L869.6,1537.7 L870.4,1537.4 L871.2,1537.1 L871.9,1536.8 L872.7,1536.4 L873.5,1536.0 L874.2,1535.6 L874.9,1535.2 L875.7,1534.8 L876.4,1534.4 L877.1,1533.9 L877.8,1533.4 L878.5,1533.0 L879.1,1532.5 L879.8,1532.0 L880.4,1531.5 L881.0,1530.9 L881.6,1530.4 L882.2,1529.9 L882.7,1529.3 L883.2,1528.7 L883.7,1528.1 L884.2,1527.5 L884.7,1526.9 L885.1,1526.2 L885.6,1525.6 L886.0,1524.9 L886.4,1524.2 L886.8,1523.5 L887.2,1522.7 L887.6,1522.0 L887.9,1521.3 L888.3,1520.5 L888.6,1519.8 L888.9,1519.0 L889.2,1518.2 L889.5,1517.5 L889.8,1516.7 L890.1,1516.0 L890.3,1515.2 L890.5,1514.5 L890.8,1513.7 L891.0,1513.0 L891.2,1512.3 L891.4,1511.6 L891.6,1510.9 L891.7,1510.2 L891.9,1509.5 L892.0,1508.8 L892.1,1508.1 L892.2,1507.4 L892.3,1506.6 L892.3,1505.9 L892.4,1505.2 L892.4,1504.5 L892.5,1503.8 L892.5,1503.1 L892.5,1502.4 L892.5,1501.7 L892.5,1501.0 L892.5,1500.3 L892.5,1499.6 L892.5,1498.9 L892.5,1498.2 L892.5,1497.4 L892.4,1496.7 L892.4,1496.0 L892.4,1495.3 L892.4,1494.6 L892.3,1493.8 L892.3,1493.0 L892.2,1492.2 L892.1,1491.4 L892.0,1490.6 L891.9,1489.8 L891.8,1488.9 L891.7,1488.1 L891.5,1487.2 L891.4,1486.4 L891.3,1485.6 L891.1,1484.8 L891.0,1484.0 L890.9,1483.2 L890.8,1482.5 L890.6,1481.8 L890.5,1481.1 L890.4,1480.5 L890.3,1479.9 L890.2,1479.3 L890.1,1478.8 L890.1,1478.4 L890.0,1478.0" stroke="url(#gb)" stroke-width="20" fill="none" stroke-linejoin="round"/>
<path d="M690.0,1408.2L685.7,1431.4 M714.7,1414.3L706.8,1436.5 M737.1,1423.6L727.9,1445.4 M759.2,1433.7L748.7,1454.8 M781.0,1445.3L768.6,1465.4 M801.6,1460.8L785.7,1478.2 M818.8,1480.8L799.2,1493.9 M829.4,1505.0L807.1,1512.8 M837.8,1521.0L821.3,1537.9 M851.9,1528.1L848.8,1551.5 M868.0,1525.6L878.6,1546.6 M878.0,1514.6L899.7,1523.7 M880.6,1496.5L904.2,1495.7" stroke="url(#gb)" stroke-width="4.4" fill="none"/>
<path d="M689.6,1410.0L686.0,1429.6 M714.1,1416.0L707.4,1434.8 M736.4,1425.3L728.6,1443.7 M758.4,1435.3L749.5,1453.2 M780.0,1446.9L769.5,1463.9 M800.4,1462.1L786.9,1476.9 M817.3,1481.8L800.7,1492.9 M827.7,1505.6L808.8,1512.2 M836.6,1522.3L822.6,1536.6 M851.7,1529.9L849.0,1549.7 M868.8,1527.2L877.8,1545.0 M879.6,1515.3L898.1,1523.0 M882.4,1496.4L902.4,1495.7" stroke="#7f8193" stroke-width="0.8" fill="none"/>
<g fill="#3c3d4c"><circle cx="698.3" cy="1421.9" r="1"/><circle cx="720.6" cy="1429.3" r="1"/><circle cx="742.2" cy="1438.7" r="1"/><circle cx="763.5" cy="1449.1" r="1"/><circle cx="783.6" cy="1461.3" r="1"/><circle cx="801.1" cy="1477.1" r="1"/><circle cx="814.2" cy="1496.6" r="1"/><circle cx="822.5" cy="1518.6" r="1"/><circle cx="838.1" cy="1535.7" r="1"/><circle cx="861.0" cy="1539.9" r="1"/><circle cx="882.0" cy="1530.0" r="1"/><circle cx="891.9" cy="1509.0" r="1"/><circle cx="891.3" cy="1485.5" r="1"/></g>
<path d="M893,1469L931,1452.6" stroke="#a6a8ba" stroke-width="6.4" stroke-linecap="round"/>
<path d="M909.4,1483.2L936,1471" stroke="#a6a8ba" stroke-width="6.4" stroke-linecap="round"/>
<path d="M880,1472.5 L893,1464 L903,1466 L899,1473 L903,1479 L912,1481 L906,1487 L899,1484 L899,1490 L881,1488z" fill="#a6a8ba"/>
<rect x="571.05" y="1349.8" width="400.8" height="226.1" fill="none" stroke="#0070c0" stroke-width="6.1" stroke-dasharray="18.7 6.61"/>
<text class="s" x="880.5" y="1400.6" font-size="29" font-weight="bold" fill="#fff" textLength="58.5" lengthAdjust="spacingAndGlyphs">t=0s</text>
<text class="r" x="443.6" y="1732" font-size="49.6" fill="#000" textLength="940.5" lengthAdjust="spacingAndGlyphs" transform="rotate(-0.155 444 1732)">Trajectory of Robostrich arm in rolling pattern.</text>
</svg>
</body>
</html>
